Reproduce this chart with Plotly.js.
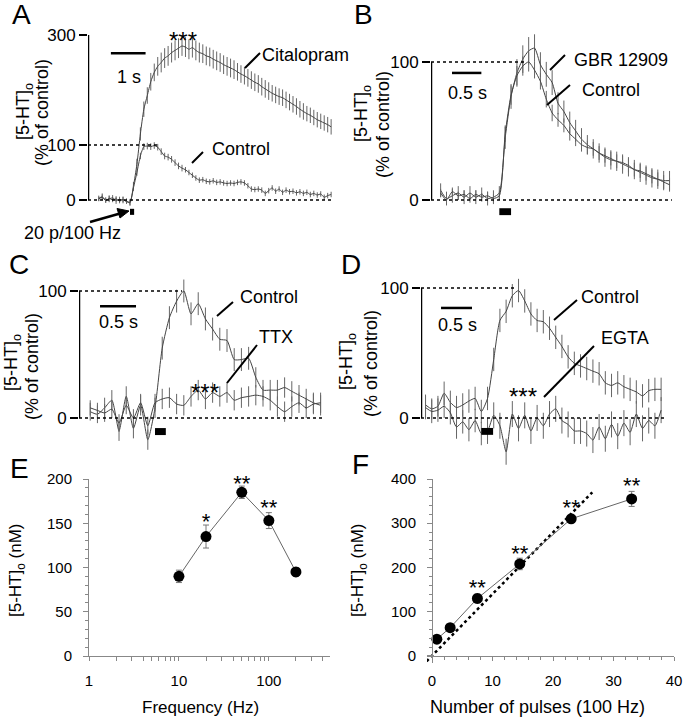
<!DOCTYPE html>
<html><head><meta charset="utf-8">
<script src="https://cdn.plot.ly/plotly-3.0.1.min.js"></script>
<style>html,body{margin:0;padding:0;background:#fff}#chart{width:684px;height:720px}</style>
</head><body><div id="chart"></div>
<script>
// ---------- DATA ----------
// Panel A (time in s relative to stimulus onset)
const tA = [-0.9,-0.8,-0.7,-0.6,-0.5,-0.4,-0.3,-0.2,-0.1,0,0.1,0.2,0.3,0.4,0.5,0.6,0.7,0.8,0.9,1.0,1.1,1.2,1.3,1.4,1.5,1.6,1.7,1.8,1.9,2.0,2.1,2.2,2.3,2.4,2.5,2.6,2.7,2.8,2.9,3.0,3.1,3.2,3.3,3.4,3.5,3.6,3.7,3.8,3.9,4.0,4.1,4.2,4.3,4.4,4.5,4.6,4.7,4.8,4.9,5.0,5.1,5.2,5.3,5.4,5.5,5.6,5.7,5.8];
const controlA = [2,5,-1,3,0,2,-2,1,-3,-5, 22,50,80,97,98,97,99,96,88,80, 78,74,68,62,58,55,50,45,40,36, 37,34,33,35,32,33,31,30,31,30, 32,33,31,26,20,19,20,18,12,17, 22,16,20,14,18,15,16,13,15,12, 14,10,12,9,11,5,8,10];
const controlAErr = [4,5,4,5,4,5,4,5,4,5, 5,6,6,6,6,6,6,6,6,6, 6,6,6,6,6,5,5,5,5,5, 5,5,5,5,5,5,5,5,5,5, 5,5,5,5,5,5,5,5,5,5, 5,5,5,5,5,5,5,5,5,5, 5,5,5,5,5,5,5,5];
const citalopramA = [3,6,0,2,4,-1,1,0,-2,-4, 25,65,120,165,190,215,232,243,250,258, 262,268,272,276,280,278,274,277,272,268, 266,262,260,256,253,250,246,243,240,237, 233,229,226,222,218,214,211,206,202,198, 194,191,188,186,182,178,174,170,165,161, 157,154,150,146,143,140,137,133];
const citalopramAErr = [5,6,5,6,5,6,5,6,5,6, 8,10,12,14,15,16,16,17,18,18, 18,18,18,18,18,18,18,18,18,18, 17,17,17,17,17,17,17,17,17,17, 16,16,16,16,16,16,16,16,16,16, 15,15,15,15,15,15,15,15,15,15, 14,14,14,14,14,14,14,14];

// Panel B
const tB = [-1.0,-0.9,-0.8,-0.7,-0.6,-0.5,-0.4,-0.3,-0.2,-0.1,0,0.1,0.2,0.3,0.4,0.5,0.6,0.7,0.8,0.9,1.0,1.1,1.2,1.3,1.4,1.5,1.6,1.7,1.8,1.9,2.0,2.1,2.2,2.3,2.4,2.5,2.6,2.7,2.8,2.9];
const controlB = [5,0,6,3,4,1,4,2,3,1, 3,48,76,90,97,100,94,86,73,63, 58,54,48,44,40,38,37,34,32,30, 28,27,25,22,21,19,17,15,13,11];
const controlBErr = [3,3,3,3,3,3,3,3,3,3, 3,6,7,7,7,7,6,6,6,6, 5,5,5,5,5,5,5,5,5,5, 5,5,5,5,5,5,5,5,5,5];
const gbrB = [7,1,3,5,2,5,2,4,1,2, 5,45,75,92,102,108,110,98,91,85, 70,64,56,50,44,40,37,34,31,29, 28,26,24,22,20,18,16,15,14,14];
const gbrBErr = [5,5,5,5,5,5,5,5,5,5, 5,8,9,10,10,10,10,9,9,9, 8,8,8,8,8,7,7,7,7,7, 7,7,7,7,7,7,7,7,7,7];

// Panel C
const tC = [-0.9,-0.8,-0.7,-0.6,-0.5,-0.4,-0.3,-0.2,-0.1,0,0.1,0.2,0.3,0.4,0.5,0.6,0.7,0.8,0.9,1.0,1.1,1.2,1.3,1.4,1.5,1.6,1.7,1.8,1.9,2.0,2.1,2.2,2.3];
const controlC = [5,3,8,14,-10,17,-8,10,-17,8, 55,79,92,100,82,90,78,70,62,61, 46,46,47,32,22,22,22,24,21,18, 15,12,10];
const controlCErr = [7,7,8,8,8,8,8,8,8,8, 9,9,9,9,9,9,9,9,9,9, 9,9,9,8,8,8,8,8,8,8, 8,8,8];
const ttxC = [8,6,4,7,-4,10,0,12,-6,12, 15,16,11,10,17,22,15,20,17,20, 14,16,17,18,17,14,9,5,9,12, 8,11,12];
const ttxCErr = [6,6,7,7,7,7,7,7,7,7, 8,8,8,8,8,8,8,8,8,8, 8,8,8,8,8,8,8,8,8,8, 8,8,8];

// Panel D
const tD = [-0.9,-0.8,-0.7,-0.6,-0.5,-0.4,-0.3,-0.2,-0.1,0,0.1,0.2,0.3,0.4,0.5,0.6,0.7,0.8,0.9,1.0,1.1,1.2,1.3,1.4,1.5,1.6,1.7,1.8,1.9,2.0,2.1,2.2,2.3,2.4,2.5,2.6,2.7,2.8,2.9];
const controlD = [10,7,9,19,12,8,10,13,15,5, 15,45,75,82,94,98,90,80,75,74, 69,62,55,47,42,40,38,36,34,27, 25,27,24,22,20,17,21,22,22];
const controlDErr = [8,8,8,9,9,9,9,9,9,9, 9,9,9,9,9,9,9,9,9,9, 9,9,9,9,9,9,9,9,9,9, 9,9,9,9,9,9,9,9,9];
const egtaD = [8,5,6,9,4,-7,-3,-9,-2,-12, -10,2,-6,-26,3,-8,2,-10,0,-6, 3,7,-2,-5,-10,-10,-12,-17,-7,-16, -5,-14,-4,-11,3,-8,-2,-6,6];
const egtaDErr = [9,9,9,9,9,9,9,9,9,9, 10,10,10,10,10,10,10,10,10,10, 10,10,10,10,10,10,10,10,10,10, 10,10,10,10,10,10,10,10,10];

// Panel E
const freqE = [10,20,50,100,200];
const serotoninE = [90,135,185,153,95];
const serotoninEErr = [7,13,7,9,5];
const starsE = ['*','**','**'];
const starsEFreq = [20,50,100];
const starsEY = [150,193,166];
const freqMajorTicks = [1,10,100];
const freqMajorText = ['1','10','100'];
const freqMinorTicks = [2,3,4,5,6,7,8,9,20,30,40,50,60,70,80,90,200,300,400];

// Panel F
const pulsesF = [0.8,3,7.5,14.5,23,33];
const serotoninF = [38,64,130,208,310,355];
const serotoninFErr = [5,4,10,13,7,17];
const fitX = [-0.9,26.5];
const fitY = [-12,370];
const starsF = ['**','**','**','**'];
const starsFX = [7.5,14.5,23,33];
const starsFY = [150,228,330,380];

// ---------- LAYOUT HELPERS ----------
const W = 684, H = 720;
const fx = p => p / W;
const fy = p => 1 - p / H;
const FONT = 'Liberation Sans, Arial, Helvetica, sans-serif';
const LINE = '#444';
const ERR = '#666';

function traceLine(x, y, err, xa, ya) {
  return {
    x: x, y: y, type: 'scatter', mode: 'lines', xaxis: xa, yaxis: ya,
    line: {color: LINE, width: 1, shape: 'spline', smoothing: 0.6},
    error_y: {type: 'data', array: err, visible: true, color: ERR, thickness: 1, width: 0},
    hoverinfo: 'skip'
  };
}

const traces = [
  traceLine(tA, citalopramA, citalopramAErr, 'x', 'y'),
  traceLine(tA, controlA, controlAErr, 'x', 'y'),
  traceLine(tB, gbrB, gbrBErr, 'x2', 'y2'),
  traceLine(tB, controlB, controlBErr, 'x2', 'y2'),
  traceLine(tC, controlC, controlCErr, 'x3', 'y3'),
  traceLine(tC, ttxC, ttxCErr, 'x3', 'y3'),
  traceLine(tD, controlD, controlDErr, 'x4', 'y4'),
  traceLine(tD, egtaD, egtaDErr, 'x4', 'y4'),
  {x: freqE, y: serotoninE, type: 'scatter', mode: 'lines+markers', xaxis: 'x5', yaxis: 'y5',
   line: {color: '#666', width: 1}, marker: {color: '#000', size: 11},
   error_y: {type: 'data', array: serotoninEErr, visible: true, color: '#777', thickness: 1, width: 3}, cliponaxis: false},
  {x: starsEFreq, y: starsEY, text: starsE, type: 'scatter', mode: 'text', xaxis: 'x5', yaxis: 'y5',
   textfont: {family: FONT, size: 22, color: '#000'}, cliponaxis: false},
  {x: fitX, y: fitY, type: 'scatter', mode: 'lines', xaxis: 'x6', yaxis: 'y6',
   line: {color: '#000', width: 2.5, dash: 'dot'}},
  {x: pulsesF, y: serotoninF, type: 'scatter', mode: 'lines+markers', xaxis: 'x6', yaxis: 'y6',
   line: {color: '#666', width: 1}, marker: {color: '#000', size: 11},
   error_y: {type: 'data', array: serotoninFErr, visible: true, color: '#777', thickness: 1, width: 3}, cliponaxis: false},
  {x: starsFX, y: starsFY, text: starsF, type: 'scatter', mode: 'text', xaxis: 'x6', yaxis: 'y6',
   textfont: {family: FONT, size: 22, color: '#000'}, cliponaxis: false}
];

// panel geometry (pixels)
const P = {
  A: {xd: [88, 336], xr: [-1.21, 5.94], yd: [22, 235], yr: [-63.6, 323.6], tv: [0, 100, 300], top: 300, end0: 5.82, end100: 0.86,
      bar: [-0.55, 0.45, 267], stim: [0, 0.12, -27, -16]},
  B: {xd: [431, 676], xr: [-1.164, 3.01], yd: [22, 235], yr: [-25.4, 128.9], tv: [0, 100], top: 100, end0: 2.94, end100: 0.47,
      bar: [-0.806, -0.306, 92], stim: [0, 0.2, -11, -6]},
  C: {xd: [79, 326], xr: [-1.056, 2.375], yd: [270, 462], yr: [-34.6, 116.5], tv: [0, 100], top: 100, end0: 2.32, end100: 0.375,
      bar: [-0.764, -0.264, 88], stim: [0, 0.15, -13.4, -7.9]},
  D: {xd: [421, 668], xr: [-0.973, 3.011], yd: [270, 468], yr: [-38.5, 113.8], tv: [0, 100], top: 100, end0: 2.95, end100: 0.54,
      bar: [-0.65, -0.15, 84.6], stim: [0, 0.19, -13, -7.7]}
};

const layout = {
  width: W, height: H, margin: {l: 0, r: 0, t: 0, b: 0},
  paper_bgcolor: '#fff', plot_bgcolor: 'rgba(0,0,0,0)',
  showlegend: false, hovermode: false,
  font: {family: FONT, color: '#000'},
  shapes: [], annotations: []
};

const keys = ['A', 'B', 'C', 'D'];
keys.forEach((k, i) => {
  const p = P[k];
  const n = i === 0 ? '' : String(i + 1);
  layout['xaxis' + n] = {domain: [fx(p.xd[0]), fx(p.xd[1])], range: p.xr, visible: false, anchor: 'y' + n, fixedrange: true};
  layout['yaxis' + n] = {domain: [fy(p.yd[1]), fy(p.yd[0])], range: p.yr, anchor: 'x' + n,
    showline: false, showgrid: false, zeroline: false, tickmode: 'array', tickvals: p.tv,
    ticks: 'outside', ticklen: 8, tickwidth: 2.5, tickcolor: '#000', tickfont: {size: 17, color: '#000', family: FONT}};
  const xr = 'x' + n, yr = 'y' + n;
  layout.shapes.push(
    {type: 'line', xref: xr, yref: yr, x0: p.xr[0], x1: p.xr[0], y0: 0, y1: p.top, line: {color: '#000', width: 2.5}},
    {type: 'line', xref: xr, yref: yr, x0: p.xr[0], x1: p.end0, y0: 0, y1: 0, line: {color: '#000', width: 1.5, dash: 'dot'}},
    {type: 'line', xref: xr, yref: yr, x0: p.xr[0], x1: p.end100, y0: 100, y1: 100, line: {color: '#000', width: 1.5, dash: 'dot'}},
    {type: 'line', xref: xr, yref: yr, x0: p.bar[0], x1: p.bar[1], y0: p.bar[2], y1: p.bar[2], line: {color: '#000', width: 2.5}},
    {type: 'rect', xref: xr, yref: yr, x0: p.stim[0], x1: p.stim[1], y0: p.stim[2], y1: p.stim[3], fillcolor: '#000', line: {width: 0}}
  );
});

// Panel E axes
layout.xaxis5 = {type: 'log', domain: [fx(89), fx(330)], range: [0, 2.68], anchor: 'y5',
  showline: true, linecolor: '#888', linewidth: 1, showgrid: false, zeroline: false,
  tickmode: 'array', tickvals: freqMajorTicks, ticktext: freqMajorText,
  ticks: 'outside', ticklen: 4, tickcolor: '#888',
  minor: {tickmode: 'array', tickvals: freqMinorTicks, ticks: 'outside', ticklen: 4, tickcolor: '#888'},
  tickfont: {size: 15, family: FONT, color: '#000'}, ticklabelstandoff: 7};
layout.yaxis5 = {domain: [fy(656), fy(479)], range: [0, 200], anchor: 'x5',
  showline: true, linecolor: '#888', linewidth: 1, showgrid: false, zeroline: false,
  tick0: 0, dtick: 50, ticks: 'outside', ticklen: 5, tickcolor: '#888',
  minor: {dtick: 10, ticks: 'outside', ticklen: 3, tickcolor: '#888'},
  tickfont: {size: 15, family: FONT, color: '#000'}, ticklabelstandoff: 8};

// Panel F axes
layout.xaxis6 = {domain: [fx(427), fx(674)], range: [-0.83, 40], anchor: 'free', position: fy(656),
  showline: true, linecolor: '#888', linewidth: 1, showgrid: false, zeroline: false,
  tick0: 0, dtick: 10, ticks: 'outside', ticklen: 4, tickcolor: '#888',
  minor: {dtick: 2, ticks: 'outside', ticklen: 3, tickcolor: '#888'},
  tickfont: {size: 15, family: FONT, color: '#000'}, ticklabelstandoff: 7};
layout.yaxis6 = {domain: [fy(662.6), fy(479)], range: [-15, 400], anchor: 'free', position: fx(432),
  showline: true, linecolor: '#888', linewidth: 1, showgrid: false, zeroline: false,
  tick0: 0, dtick: 100, ticks: 'outside', ticklen: 5, tickcolor: '#888',
  minor: {dtick: 20, ticks: 'outside', ticklen: 3, tickcolor: '#888'},
  tickfont: {size: 15, family: FONT, color: '#000'}, ticklabelstandoff: 8};

// pointer lines (paper pixels)
const pointers = [
  [245, 68, 260, 53], [192, 163, 203, 152],
  [550, 70, 565, 55], [547, 105, 570, 85],
  [217, 316, 233, 302], [227, 383, 257, 345],
  [554, 320, 577, 300], [544, 397, 594, 346]
];
pointers.forEach(q => layout.shapes.push({type: 'line', xref: 'paper', yref: 'paper',
  x0: fx(q[0]), y0: fy(q[1]), x1: fx(q[2]), y1: fy(q[3]), line: {color: '#000', width: 2}}));

// stimulus arrow in panel A (shaft + head)
layout.shapes.push(
  {type: 'line', xref: 'paper', yref: 'paper', x0: fx(90), y0: fy(222), x1: fx(120), y1: fy(213.5), line: {color: '#000', width: 2.5}},
  {type: 'path', xref: 'paper', yref: 'paper',
   path: `M ${fx(129)} ${fy(211)} L ${fx(117)} ${fy(208.5)} L ${fx(120)} ${fy(218)} Z`,
   fillcolor: '#000', line: {color: '#000', width: 1}}
);

function ann(text, x, y, size, xanchor, extra) {
  return Object.assign({text: text, x: fx(x), y: fy(y), xref: 'paper', yref: 'paper', showarrow: false,
    xanchor: xanchor || 'center', yanchor: 'middle', font: {size: size, family: FONT, color: '#000'}}, extra || {});
}

layout.annotations.push(
  // panel letters
  ann('A', 10, 14, 28, 'left'), ann('B', 352, 14, 28, 'left'), ann('C', 7, 264, 28, 'left'),
  ann('D', 339, 264, 28, 'left'), ann('E', 8, 468, 28, 'left'), ann('F', 350, 464, 28, 'left'),
  // y titles A-D
  ann('[5-HT]<sub>o</sub>', 24, 112, 18, 'center', {textangle: -90}),
  ann('(% of control)', 42, 113, 18, 'center', {textangle: -90}),
  ann('[5-HT]<sub>o</sub>', 362, 114, 18, 'center', {textangle: -90}),
  ann('(% of control)', 383, 125, 18, 'center', {textangle: -90}),
  ann('[5-HT]<sub>o</sub>', 12, 363, 18, 'center', {textangle: -90}),
  ann('(% of control)', 32, 367, 18, 'center', {textangle: -90}),
  ann('[5-HT]<sub>o</sub>', 347, 362, 18, 'center', {textangle: -90}),
  ann('(% of control)', 371, 364, 18, 'center', {textangle: -90}),
  // A texts
  ann('***', 183, 40, 24), ann('Citalopram', 260, 55, 18, 'left'), ann('Control', 210, 149, 18, 'left'),
  ann('1 s', 129, 77, 18), ann('20 p/100 Hz', 22, 233, 18, 'left'),
  // B texts
  ann('GBR 12909', 572, 60, 18, 'left'), ann('Control', 580, 90, 18, 'left'), ann('0.5 s', 467, 93, 18),
  // C texts
  ann('Control', 238, 297, 18, 'left'), ann('TTX', 257, 337, 18, 'left'), ann('***', 205, 393, 24), ann('0.5 s', 118, 322, 18),
  // D texts
  ann('Control', 579, 297, 18, 'left'), ann('EGTA', 599, 338, 18, 'left'), ann('***', 523, 396, 24), ann('0.5 s', 457, 325, 18),
  // E / F titles
  ann('Frequency (Hz)', 200, 707, 17), ann('Number of pulses (100 Hz)', 537, 707, 18),
  ann('[5-HT]<sub>o</sub> (nM)', 17, 570, 17, 'center', {textangle: -90}),
  ann('[5-HT]<sub>o</sub> (nM)', 359, 570, 17, 'center', {textangle: -90})
);

Plotly.newPlot('chart', traces, layout, {staticPlot: true, displayModeBar: false});
</script></body></html>
